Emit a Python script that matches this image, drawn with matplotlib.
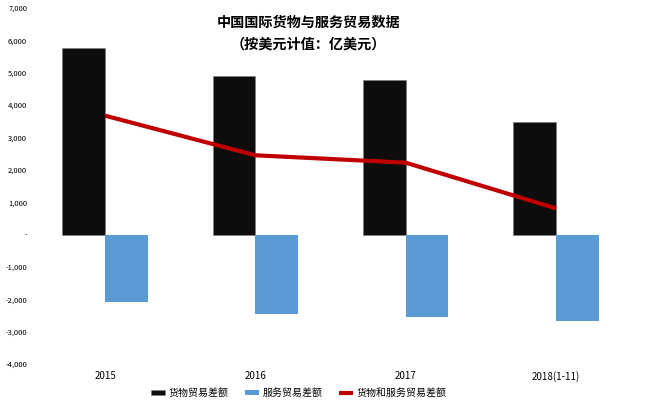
import numpy as np
import matplotlib.pyplot as plt
from matplotlib.ticker import FuncFormatter

plt.rcParams['font.family'] = ['Noto Sans CJK SC', 'DejaVu Sans']

years = ['2015', '2016', '2017', '2018(1-11)']
goods = [5762, 4889, 4761, 3480]
services = [-2089, -2440, -2540, -2670]
net = [3673, 2449, 2221, 810]

fig = plt.figure(figsize=(6.52, 4.15), dpi=100)
ax = fig.add_axes([30 / 652, 1 - 364 / 415, 601 / 652, 356 / 415])

x = np.arange(len(years))
w = 0.285
b1 = ax.bar(x - w / 2, goods, w, color='#0d0d0d', edgecolor='#7f7f7f', linewidth=0.5)
b2 = ax.bar(x + w / 2, services, w, color='#5b9bd5')
l1, = ax.plot(x, net, color='#c00000', linewidth=3, solid_capstyle='butt')

ax.set_xlim(-0.5, 3.5)
ax.set_ylim(-4000, 7000)
ax.set_yticks(np.arange(-4000, 7001, 1000))
ax.yaxis.set_major_formatter(FuncFormatter(lambda v, p: '-' if v == 0 else f'{v:,.0f}'))
ax.set_xticks(x)
ax.set_xticklabels(years)
ax.tick_params(axis='y', length=0, labelsize=5.5, pad=2)
ax.tick_params(axis='x', length=0, labelsize=7, pad=5)
for s in ax.spines.values():
    s.set_visible(False)

ax.text(0.463, 0.977, '中国国际货物与服务贸易数据\n（按美元计值：亿美元）', transform=ax.transAxes,
        ha='center', va='top', fontsize=10.2, fontweight='bold', linespacing=1.65)

fig.legend([b1, b2, l1], ['货物贸易差额', '服务贸易差额', '货物和服务贸易差额'],
           loc='center', bbox_to_anchor=(0.458, 1 - 393 / 415), ncol=3, frameon=False,
           fontsize=7.2, handlelength=1.4, handleheight=0.5, handletextpad=0.4,
           columnspacing=1.6)

fig.savefig('out.png', dpi=100)
